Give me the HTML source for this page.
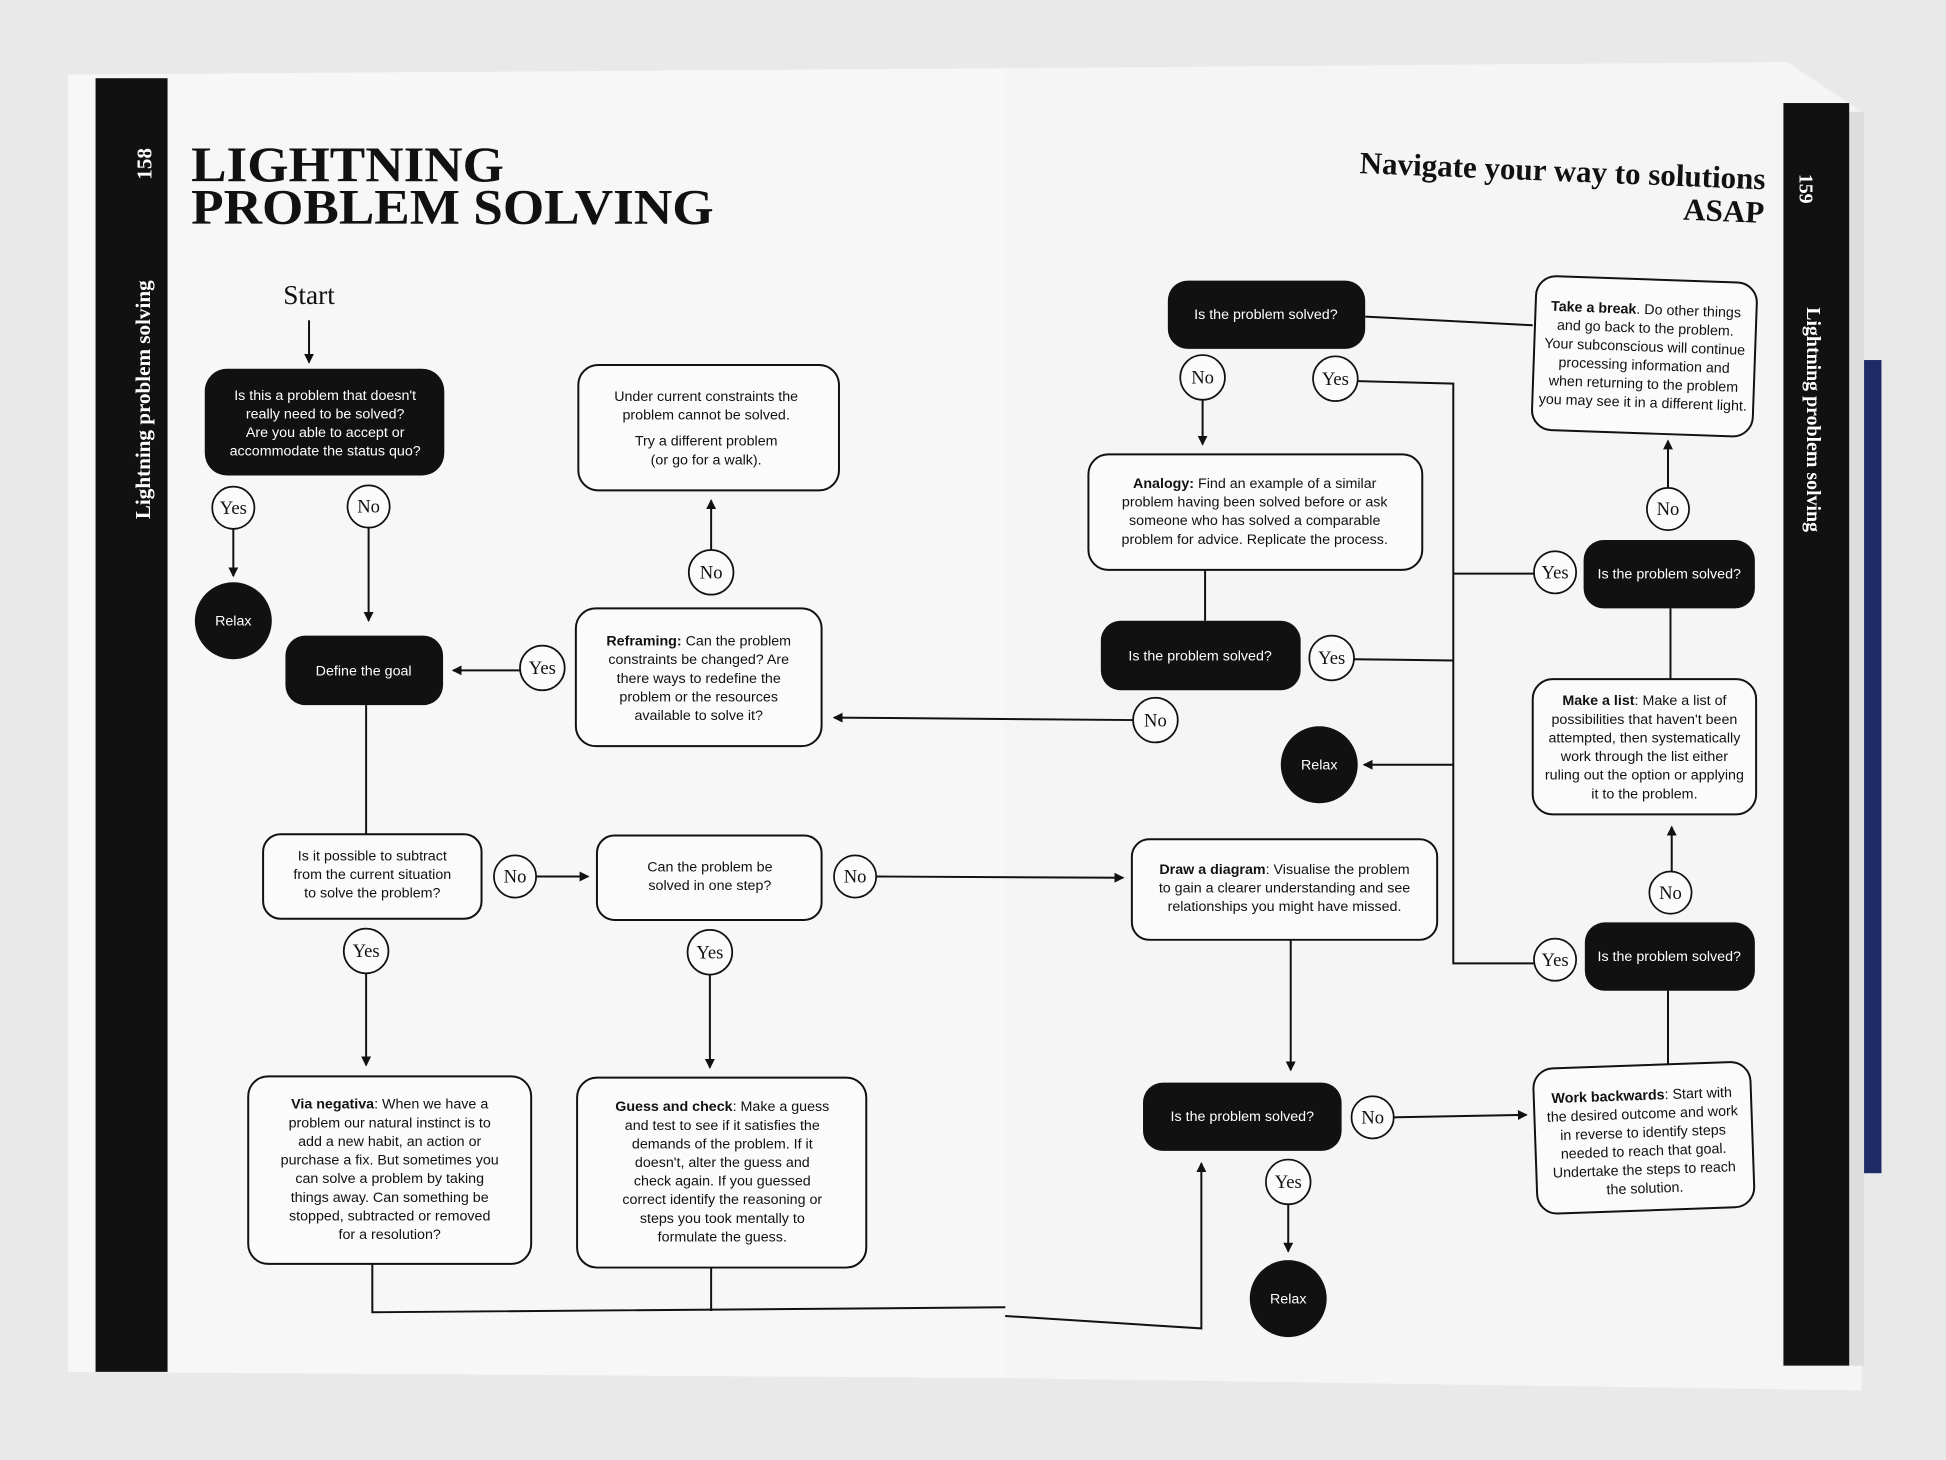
<!DOCTYPE html>
<html><head><meta charset="utf-8"><style>
html,body{margin:0;padding:0;background:#e9e9e9;width:1946px;height:1460px;overflow:hidden}
svg{display:block}
text{font-family:"Liberation Sans",sans-serif}
.t{font-size:11.5px;fill:#111;text-anchor:middle}
.w{font-size:11.5px;fill:#fff;text-anchor:middle}
.c{font-family:"Liberation Serif",serif;font-size:15px;fill:#111;text-anchor:middle}
.bx{fill:#fbfbfb;stroke:#111;stroke-width:1.6}
.bk{fill:#111}
.ln{stroke:#111;stroke-width:1.6;fill:none}
.ci{fill:#fbfbfb;stroke:#111;stroke-width:1.4}
</style></head><body>
<svg width="1946" height="1460" viewBox="0 0 1568 1176" preserveAspectRatio="none">
<defs><marker id="a" markerWidth="8" markerHeight="8" refX="7" refY="4" orient="auto" markerUnits="userSpaceOnUse"><path d="M0,0L8,4L0,8z" fill="#111"/></marker></defs>
<rect width="1568" height="1176" fill="#e9e9e9"/>
<path d="M55,60 L810,55 L810,1110 L55,1105z" fill="#f7f7f7"/>
<path d="M810,55 L1440,50 L1500,90 L1500,1120 L810,1110z" fill="#f5f5f5"/>
<rect x="1500" y="290" width="16" height="655" fill="#1d2a66"/>
<rect x="1490" y="90" width="12" height="1010" fill="#ddd"/>
<rect x="77" y="63" width="58" height="1042" fill="#111"/>
<rect x="1437" y="83" width="53" height="1017" fill="#111"/>
<text x="0" y="0" transform="translate(122,132) rotate(-90)" style="font-family:'Liberation Serif',serif;font-weight:bold;font-size:17px;fill:#fff;text-anchor:middle">158</text>
<text x="0" y="0" transform="translate(121,322) rotate(-90)" style="font-family:'Liberation Serif',serif;font-weight:bold;font-size:17px;fill:#fff;text-anchor:middle">Lightning problem solving</text>
<text x="0" y="0" transform="translate(1450,152) rotate(90)" style="font-family:'Liberation Serif',serif;font-weight:bold;font-size:16px;fill:#fff;text-anchor:middle">159</text>
<text x="0" y="0" transform="translate(1456,338) rotate(90)" style="font-family:'Liberation Serif',serif;font-weight:bold;font-size:16px;fill:#fff;text-anchor:middle">Lightning problem solving</text>
<text x="154" y="146" textLength="252" lengthAdjust="spacingAndGlyphs" style="font-family:'Liberation Serif',serif;font-weight:bold;font-size:40px;fill:#111">LIGHTNING</text>
<text x="154" y="180" textLength="421" lengthAdjust="spacingAndGlyphs" style="font-family:'Liberation Serif',serif;font-weight:bold;font-size:40px;fill:#111">PROBLEM SOLVING</text>
<g transform="rotate(2.3 1235 130)">
<text x="1423" y="145" style="font-family:'Liberation Serif',serif;font-weight:bold;font-size:25px;fill:#111;text-anchor:end">Navigate your way to solutions</text>
<text x="1423" y="172" style="font-family:'Liberation Serif',serif;font-weight:bold;font-size:25px;fill:#111;text-anchor:end">ASAP</text>
</g>
<text x="249" y="245" style="font-family:'Liberation Serif',serif;font-size:22px;fill:#111;text-anchor:middle">Start</text>
<line class="ln" x1="249" y1="258" x2="249" y2="292" marker-end="url(#a)"/>
<rect class="bk" x="165" y="297" width="193" height="86" rx="18"/>
<text class="w" x="262" y="322">Is this a problem that doesn't</text>
<text class="w" x="262" y="337">really need to be solved?</text>
<text class="w" x="262" y="352">Are you able to accept or</text>
<text class="w" x="262" y="367">accommodate the status quo?</text>
<circle class="ci" cx="188" cy="409" r="17"/><text class="c" x="188" y="414">Yes</text>
<circle class="ci" cx="297" cy="408" r="17"/><text class="c" x="297" y="413">No</text>
<line class="ln" x1="188" y1="426" x2="188" y2="464" marker-end="url(#a)"/>
<circle class="bk" cx="188" cy="500" r="31"/><text class="w" x="188" y="504">Relax</text>
<line class="ln" x1="297" y1="425" x2="297" y2="500" marker-end="url(#a)"/>
<rect class="bk" x="230" y="512" width="127" height="56" rx="16"/><text class="w" x="293" y="544">Define the goal</text>
<circle class="ci" cx="437" cy="538" r="18"/><text class="c" x="437" y="543">Yes</text>
<line class="ln" x1="419" y1="540" x2="365" y2="540" marker-end="url(#a)"/>
<rect class="bx" x="464" y="490" width="198" height="111" rx="16"/>
<text class="t" x="563" y="520"><tspan font-weight="bold">Reframing:</tspan> Can the problem</text>
<text class="t" x="563" y="535">constraints be changed? Are</text>
<text class="t" x="563" y="550">there ways to redefine the</text>
<text class="t" x="563" y="565">problem or the resources</text>
<text class="t" x="563" y="580">available to solve it?</text>
<circle class="ci" cx="573" cy="461" r="18"/><text class="c" x="573" y="466">No</text>
<line class="ln" x1="573" y1="443" x2="573" y2="403" marker-end="url(#a)"/>
<rect class="bx" x="466" y="294" width="210" height="101" rx="16"/>
<text class="t" x="569" y="323">Under current constraints the</text>
<text class="t" x="569" y="338">problem cannot be solved.</text>
<text class="t" x="569" y="359">Try a different problem</text>
<text class="t" x="569" y="374">(or go for a walk).</text>
<line class="ln" x1="295" y1="568" x2="295" y2="672"/>
<rect class="bx" x="212" y="672" width="176" height="68" rx="14"/>
<text class="t" x="300" y="693">Is it possible to subtract</text>
<text class="t" x="300" y="708">from the current situation</text>
<text class="t" x="300" y="723">to solve the problem?</text>
<circle class="ci" cx="415" cy="706" r="17"/><text class="c" x="415" y="711">No</text>
<line class="ln" x1="432" y1="706" x2="474" y2="706" marker-end="url(#a)"/>
<rect class="bx" x="481" y="673" width="181" height="68" rx="14"/>
<text class="t" x="572" y="702">Can the problem be</text>
<text class="t" x="572" y="717">solved in one step?</text>
<circle class="ci" cx="689" cy="706" r="17"/><text class="c" x="689" y="711">No</text>
<line class="ln" x1="706" y1="706" x2="905" y2="707" marker-end="url(#a)"/>
<circle class="ci" cx="295" cy="766" r="18"/><text class="c" x="295" y="771">Yes</text>
<line class="ln" x1="295" y1="784" x2="295" y2="858" marker-end="url(#a)"/>
<circle class="ci" cx="572" cy="767" r="18"/><text class="c" x="572" y="772">Yes</text>
<line class="ln" x1="572" y1="785" x2="572" y2="860" marker-end="url(#a)"/>
<rect class="bx" x="200" y="867" width="228" height="151" rx="16"/>
<text class="t" x="314" y="893"><tspan font-weight="bold">Via negativa</tspan>: When we have a</text>
<text class="t" x="314" y="908">problem our natural instinct is to</text>
<text class="t" x="314" y="923">add a new habit, an action or</text>
<text class="t" x="314" y="938">purchase a fix. But sometimes you</text>
<text class="t" x="314" y="953">can solve a problem by taking</text>
<text class="t" x="314" y="968">things away. Can something be</text>
<text class="t" x="314" y="983">stopped, subtracted or removed</text>
<text class="t" x="314" y="998">for a resolution?</text>
<rect class="bx" x="465" y="868" width="233" height="153" rx="16"/>
<text class="t" x="582" y="895"><tspan font-weight="bold">Guess and check</tspan>: Make a guess</text>
<text class="t" x="582" y="910">and test to see if it satisfies the</text>
<text class="t" x="582" y="925">demands of the problem. If it</text>
<text class="t" x="582" y="940">doesn't, alter the guess and</text>
<text class="t" x="582" y="955">check again. If you guessed</text>
<text class="t" x="582" y="970">correct identify the reasoning or</text>
<text class="t" x="582" y="985">steps you took mentally to</text>
<text class="t" x="582" y="1000">formulate the guess.</text>
<polyline class="ln" points="300,1018 300,1057 810,1053"/>
<line class="ln" x1="573" y1="1021" x2="573" y2="1056"/>
<polyline class="ln" points="810,1060 968,1070 968,937" marker-end="url(#a)"/>
<line class="ln" x1="913" y1="580" x2="672" y2="578" marker-end="url(#a)"/>
<rect class="bk" x="941" y="226" width="159" height="55" rx="16"/><text class="w" x="1020" y="257">Is the problem solved?</text>
<line class="ln" x1="1100" y1="255" x2="1235" y2="262"/>
<g transform="rotate(2 1325 287)">
<rect class="bx" x="1236" y="225" width="178" height="124" rx="16"/>
<text class="t" x="1325" y="253"><tspan font-weight="bold">Take a break</tspan>. Do other things</text>
<text class="t" x="1325" y="268">and go back to the problem.</text>
<text class="t" x="1325" y="283">Your subconscious will continue</text>
<text class="t" x="1325" y="298">processing information and</text>
<text class="t" x="1325" y="313">when returning to the problem</text>
<text class="t" x="1325" y="328">you may see it in a different light.</text>
</g>
<circle class="ci" cx="969" cy="304" r="18"/><text class="c" x="969" y="309">No</text>
<line class="ln" x1="969" y1="322" x2="969" y2="358" marker-end="url(#a)"/>
<circle class="ci" cx="1076" cy="305" r="18"/><text class="c" x="1076" y="310">Yes</text>
<polyline class="ln" points="1094,307 1171,309 1171,776 1236,776"/>
<line class="ln" x1="1171" y1="462" x2="1236" y2="462"/>
<line class="ln" x1="1090" y1="531" x2="1171" y2="532"/>
<line class="ln" x1="1171" y1="616" x2="1099" y2="616" marker-end="url(#a)"/>
<rect class="bx" x="877" y="366" width="269" height="93" rx="16"/>
<text class="t" x="1011" y="393"><tspan font-weight="bold">Analogy:</tspan> Find an example of a similar</text>
<text class="t" x="1011" y="408">problem having been solved before or ask</text>
<text class="t" x="1011" y="423">someone who has solved a comparable</text>
<text class="t" x="1011" y="438">problem for advice. Replicate the process.</text>
<line class="ln" x1="971" y1="459" x2="971" y2="500"/>
<rect class="bk" x="887" y="500" width="161" height="56" rx="16"/><text class="w" x="967" y="532">Is the problem solved?</text>
<circle class="ci" cx="1073" cy="530" r="18"/><text class="c" x="1073" y="535">Yes</text>
<circle class="ci" cx="931" cy="580" r="18"/><text class="c" x="931" y="585">No</text>
<circle class="bk" cx="1063" cy="616" r="31"/><text class="w" x="1063" y="620">Relax</text>
<circle class="ci" cx="1253" cy="461" r="17"/><text class="c" x="1253" y="466">Yes</text>
<rect class="bk" x="1276" y="435" width="138" height="55" rx="16"/><text class="w" x="1345" y="466">Is the problem solved?</text>
<circle class="ci" cx="1344" cy="410" r="17"/><text class="c" x="1344" y="415">No</text>
<line class="ln" x1="1344" y1="393" x2="1344" y2="355" marker-end="url(#a)"/>
<line class="ln" x1="1346" y1="490" x2="1346" y2="547"/>
<rect class="bx" x="1235" y="547" width="180" height="109" rx="16"/>
<text class="t" x="1325" y="568"><tspan font-weight="bold">Make a list</tspan>: Make a list of</text>
<text class="t" x="1325" y="583">possibilities that haven't been</text>
<text class="t" x="1325" y="598">attempted, then systematically</text>
<text class="t" x="1325" y="613">work through the list either</text>
<text class="t" x="1325" y="628">ruling out the option or applying</text>
<text class="t" x="1325" y="643">it to the problem.</text>
<circle class="ci" cx="1346" cy="719" r="17"/><text class="c" x="1346" y="724">No</text>
<line class="ln" x1="1347" y1="702" x2="1347" y2="666" marker-end="url(#a)"/>
<rect class="bk" x="1277" y="743" width="137" height="55" rx="16"/><text class="w" x="1345" y="774">Is the problem solved?</text>
<circle class="ci" cx="1253" cy="773" r="17"/><text class="c" x="1253" y="778">Yes</text>
<line class="ln" x1="1344" y1="798" x2="1344" y2="857"/>
<rect class="bx" x="912" y="676" width="246" height="81" rx="14"/>
<text class="t" x="1035" y="704"><tspan font-weight="bold">Draw a diagram</tspan>: Visualise the problem</text>
<text class="t" x="1035" y="719">to gain a clearer understanding and see</text>
<text class="t" x="1035" y="734">relationships you might have missed.</text>
<line class="ln" x1="1040" y1="757" x2="1040" y2="862" marker-end="url(#a)"/>
<rect class="bk" x="921" y="872" width="160" height="55" rx="16"/><text class="w" x="1001" y="903">Is the problem solved?</text>
<circle class="ci" cx="1106" cy="900" r="17"/><text class="c" x="1106" y="905">No</text>
<line class="ln" x1="1123" y1="900" x2="1230" y2="898" marker-end="url(#a)"/>
<circle class="ci" cx="1038" cy="952" r="18"/><text class="c" x="1038" y="957">Yes</text>
<line class="ln" x1="1038" y1="970" x2="1038" y2="1008" marker-end="url(#a)"/>
<circle class="bk" cx="1038" cy="1046" r="31"/><text class="w" x="1038" y="1050">Relax</text>
<g transform="rotate(-2 1324 916)">
<rect class="bx" x="1237" y="858" width="175" height="117" rx="16"/>
<text class="t" x="1324" y="886"><tspan font-weight="bold">Work backwards</tspan>: Start with</text>
<text class="t" x="1324" y="901">the desired outcome and work</text>
<text class="t" x="1324" y="916">in reverse to identify steps</text>
<text class="t" x="1324" y="931">needed to reach that goal.</text>
<text class="t" x="1324" y="946">Undertake the steps to reach</text>
<text class="t" x="1324" y="961">the solution.</text>
</g>
</svg>
</body></html>
